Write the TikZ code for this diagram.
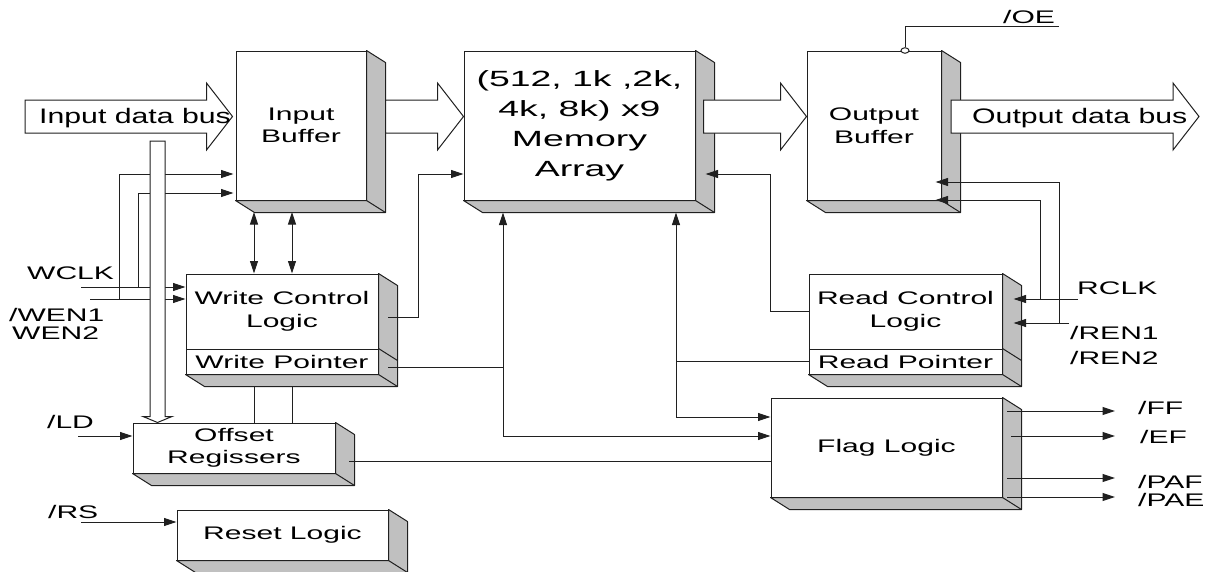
\documentclass[tikz,border=0pt]{standalone}
\usepackage{fontspec}
\setmainfont{Liberation Sans}
\newfontfamily\labf{Liberation Sans}[FakeStretch=1.65]
\newfontfamily\busfont{Liberation Sans}[FakeStretch=1.44]
\newfontfamily\memfont{Liberation Sans}[FakeStretch=1.7]
\usetikzlibrary{arrows.meta,calc,shapes.geometric}
\definecolor{sidegray}{HTML}{C0C0C0}
\definecolor{ink}{HTML}{202020}
\tikzset{
  ln/.style={draw=ink, line width=1pt},
  arr/.style={ln, -{Triangle[length=12.5pt,width=8pt]}},
  darr/.style={ln, {Triangle[length=12.5pt,width=8pt]}-{Triangle[length=12.5pt,width=8pt]}},
  box/.style={draw=ink, line width=1pt, fill=white, inner sep=0pt, align=center,
    font=\labf\fontsize{18.2}{22.5}\selectfont},
  membox/.style={box, font=\memfont\fontsize{22}{30}\selectfont},
  side/.style={draw=ink, line width=1pt, fill=sidegray, line join=round},
  bus/.style={draw=ink, line width=1pt, fill=white, line join=miter},
  lab/.style={inner sep=0pt, anchor=base west, font=\labf\fontsize{18.2}{22}\selectfont},
  buslab/.style={inner sep=0pt, anchor=base west, font=\busfont\fontsize{21}{25}\selectfont},
}
\newcommand\sidefaces[2]{%
  \draw[side] (#1.north east) -- ++(19,12) -- ($(#2.south east)+(19,12)$)
    -- ($(#2.south west)+(19,12)$) -- (#2.south west) -- (#2.south east) -- cycle;
  \draw[ln] (#2.south east) -- ++(19,12);}
\newcommand\busarrow[2]{%
  \draw[bus] let \p1=#1, \p2=#2 in
    (\x1,\y1+16.5pt) -- (\x2-26pt,\y1+16.5pt) -- (\x2-26pt,\y1+33.5pt) -- (\x2,\y1)
    -- (\x2-26pt,\y1-33.5pt) -- (\x2-26pt,\y1-16.5pt) -- (\x1,\y1-16.5pt) -- cycle;}
\begin{document}
\begin{tikzpicture}[x=1pt,y=-1pt]
\fill[white] (0,0) rectangle (1211,571);
\useasboundingbox (0,0) rectangle (1211,571);

% ---- blocks
\node[box, minimum width=130pt, minimum height=149pt] (ib) at (301,125.5) {Input\\Buffer};
\node[membox, minimum width=231pt, minimum height=149pt] (mem) at (579.5,125.5) {(512, 1k ,2k,\\4k, 8k) x9\\Memory\\Array};
\node[box, minimum width=134pt, minimum height=149pt] (out) at (874,125.5) {Output\\Buffer};
\node[box, minimum width=192pt, minimum height=75pt] (wcl) at (282,311.5) {Write Control\\Logic};
\node[box, minimum width=192pt, minimum height=25pt] (wp) at (282,361.5) {Write Pointer};
\node[box, minimum width=193pt, minimum height=75pt] (rcl) at (905.5,311.5) {Read Control\\Logic};
\node[box, minimum width=193pt, minimum height=25pt] (rp) at (905.5,361.5) {Read Pointer};
\node[box, minimum width=202pt, minimum height=50pt] (off) at (234,448) {Offset\\Regissers};
\node[box, minimum width=211pt, minimum height=50pt] (rst) at (282.5,535) {Reset Logic};
\node[box, minimum width=231pt, minimum height=99pt] (flag) at (886.5,447.5) {Flag Logic};

\sidefaces{ib}{ib}
\sidefaces{mem}{mem}
\sidefaces{out}{out}
\sidefaces{wcl}{wp}
\draw[ln] (wp.north east) -- ++(19,12);
\sidefaces{rcl}{rp}
\draw[ln] (rp.north east) -- ++(19,12);
\sidefaces{off}{off}
\sidefaces{rst}{rst}
\sidefaces{flag}{flag}

% ---- data buses
\coordinate (inbusS) at (25,116.5);
\coordinate (outbusS) at (951,116.5);
\coordinate (outbusT) at (1199,116.5);
\busarrow{(inbusS)}{($(ib.west |- inbusS)+(-3,0)$)}
\busarrow{($(ib.east |- inbusS)+(19,0)$)}{(mem.west |- inbusS)}
\busarrow{($(mem.east |- inbusS)+(8,0)$)}{(out.west |- inbusS)}
\busarrow{(outbusS)}{(outbusT)}
\node[buslab] (inbus) at (39,123) {Input data bus};
\node[buslab] (outbus) at (972,123) {Output data bus};

% ---- write side inputs
\coordinate (wclkL) at (81,287);
\coordinate (wen1L) at (90,299);
\coordinate (jw1) at (138,287);
\coordinate (jw2) at (119,299);
\draw[arr] (wclkL) -- (wclkL -| wcl.west);
\draw[arr] (wen1L) -- (wen1L -| wcl.west);
\draw[arr] (jw1) |- ($(ib.west |- 0,193)+(-2,0)$);
\draw[arr] (jw2) |- ($(ib.west |- 0,174)+(-2,0)$);

% ---- input buffer <-> write control
\coordinate (d1) at (254,212);
\coordinate (d2) at (292,212);
\draw[darr] (d1) -- (d1 |- wcl.north);
\draw[darr] (d2) -- (d2 |- wcl.north);

% ---- write pointer -> offset registers
\coordinate (p1) at (254,386);
\coordinate (p2) at (292,386);
\draw[ln] (p1) -- (p1 |- off.north);
\draw[ln] (p2) -- (p2 |- off.north);

% ---- write control -> memory
\coordinate (wclo) at (388,317);
\draw[arr] (wclo) -- ++(30,0) |- (mem.west |- 0,174);

% ---- pointers -> memory / flag
\coordinate (memb) at ($(mem.south)+(0,12)$);
\coordinate (wpo) at (388,367);
\coordinate (j5) at (503,436);
\coordinate (j6) at (676,417);
\draw[ln] (wpo) -- (wpo -| j5);
\draw[arr] (j5) -- (j5 |- memb);
\draw[arr] (j5) -- (j5 -| flag.west);
\draw[ln] (rp.west) -- (rp.west -| j6);
\draw[arr] (j6) -- (j6 |- memb);
\draw[arr] (j6) -- (j6 -| flag.west);

% ---- read control -> memory
\draw[arr] (rcl.west) -- ++(-38,0) |- ($(mem.east |- 0,174)+(10,0)$);

% ---- read side inputs
\coordinate (rclkL) at (1078,299);
\coordinate (ren1L) at (1069,323);
\coordinate (j7) at (1040,299);
\coordinate (j8) at (1059,323);
\draw[arr] (rclkL) -- ($(rcl.east |- rclkL)+(11,0)$);
\draw[arr] (ren1L) -- ($(rcl.east |- ren1L)+(11,0)$);
\draw[arr] (j7) |- ($(out.east |- 0,200)+(-6,0)$);
\draw[arr] (j8) |- ($(out.east |- 0,182)+(-6,0)$);

% ---- offset -> flag, LD, RS
\coordinate (offo) at (349,461);
\draw[ln] (offo) -- (offo -| flag.west);
\coordinate (ldL) at (78,436);
\draw[arr] (ldL) -- (ldL -| off.west);
\coordinate (rsL) at (81,522);
\draw[arr] (rsL) -- (rsL -| rst.west);

% ---- flag outputs
\coordinate (ffo) at (1007,411);
\coordinate (efo) at (1011,436);
\coordinate (pafo) at (1007,478);
\coordinate (paeo) at (1007,497);
\draw[arr] (ffo) -- ++(108,0);
\draw[arr] (efo) -- ++(104,0);
\draw[arr] (pafo) -- ++(108,0);
\draw[arr] (paeo) -- ++(108,0);

% ---- /OE
\node[ellipse, draw=ink, line width=1pt, fill=white, inner sep=0pt,
      minimum width=8pt, minimum height=5.5pt] (oec) at (905,50.5) {};
\coordinate (oeL) at (1059,26);
\draw[ln] (oec.north) |- (oeL);

% ---- vertical hollow bus to offset registers
\coordinate (vbT) at (157.5,141);
\coordinate (vbB) at (vbT |- off.north);
\draw[bus] ($(vbT)+(-7.5,0)$) -- ($(vbT)+(7.5,0)$) -- ($(vbB)+(7.5,-6)$) -- ($(vbB)+(14.5,-6)$)
  -- (vbB) -- ($(vbB)+(-14.5,-6)$) -- ($(vbB)+(-7.5,-6)$) -- cycle;

% ---- signal labels
\node[lab] (wclk) at (27,279) {WCLK};
\node[lab] (wen1) at (9,321) {/WEN1};
\node[lab] (wen2) at (12,339) {WEN2};
\node[lab] (ld) at (47,428) {/LD};
\node[lab] (rs) at (48,518) {/RS};
\node[lab] (rclk) at (1077,294) {RCLK};
\node[lab] (ren1) at (1070,339) {/REN1};
\node[lab] (ren2) at (1070,364) {/REN2};
\node[lab] (ff) at (1138,414) {/FF};
\node[lab] (ef) at (1140,443) {/EF};
\node[lab] (paf) at (1138,488) {/PAF};
\node[lab] (pae) at (1138,506) {/PAE};
\node[lab] (oe) at (1003,23) {/OE};
\end{tikzpicture}
\end{document}
